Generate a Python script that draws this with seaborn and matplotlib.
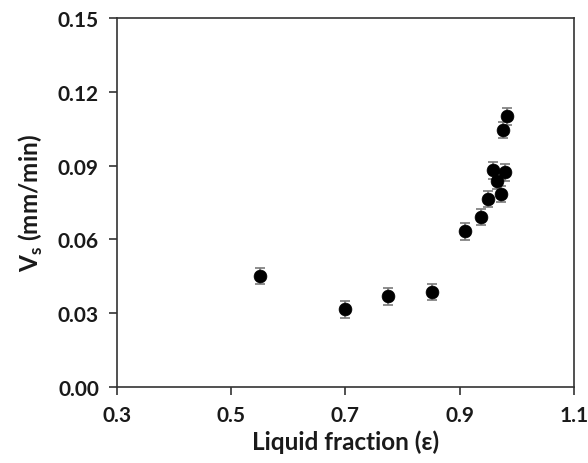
import matplotlib
matplotlib.use("Agg")
import matplotlib.pyplot as plt
import seaborn as sns
import pandas as pd
import numpy as np

liquid_fraction = [0.550, 0.699, 0.775, 0.851, 0.910, 0.937, 0.950, 0.972, 0.966, 0.959, 0.979, 0.976, 0.983]
vs = [0.0450, 0.0315, 0.0368, 0.0385, 0.0632, 0.0690, 0.0765, 0.0785, 0.0838, 0.0880, 0.0872, 0.1045, 0.1100]
err = [0.0033] * len(vs)

df = pd.DataFrame({"eps": liquid_fraction, "vs": vs, "err": err})

sns.set_theme(style="white")
plt.rcParams['font.family'] = ['Lato', 'DejaVu Sans']

fig = plt.figure(figsize=(5.88, 4.64), dpi=100)
ax = fig.add_axes([0.199, 0.164, 0.777, 0.795])

ax.errorbar(df["eps"], df["vs"], yerr=df["err"], fmt="none", ecolor="#7a7a7a",
            elinewidth=1.2, capsize=3.5, capthick=1.2, zorder=2)
sns.scatterplot(data=df, x="eps", y="vs", ax=ax, color="black", s=85,
                edgecolor="black", linewidth=0.5, zorder=3, legend=False)

ax.set_xlim(0.3, 1.1)
ax.set_ylim(0.0, 0.15)
ax.set_xticks([0.3, 0.5, 0.7, 0.9, 1.1])
ax.set_xticklabels(["0.3", "0.5", "0.7", "0.9", "1.1"])
ax.set_yticks([0.0, 0.03, 0.06, 0.09, 0.12, 0.15])
ax.set_yticklabels(["0.00", "0.03", "0.06", "0.09", "0.12", "0.15"])

for sp in ax.spines.values():
    sp.set_color("#333333")
    sp.set_linewidth(1.2)
    sp.set_visible(True)

ax.tick_params(axis="both", direction="out", length=6, width=1.2, color="#333333",
               labelsize=15, labelcolor="#1a1a1a", pad=7, bottom=True, left=True)
for lab in ax.get_xticklabels() + ax.get_yticklabels():
    lab.set_fontweight("bold")

ax.set_xlabel("Liquid fraction (ε)", fontsize=17.5, fontweight="bold", labelpad=3, color="#1a1a1a")
ax.set_ylabel("V$_\\mathregular{s}$ (mm/min)", fontsize=17.5, fontweight="bold", labelpad=9, color="#1a1a1a")

fig.savefig("out.png", dpi=100, facecolor="white")
